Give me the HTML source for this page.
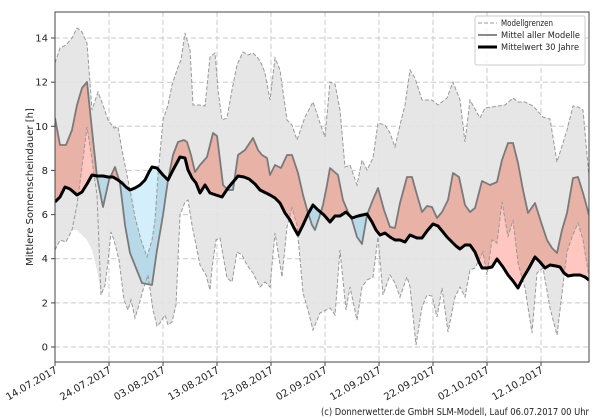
<!DOCTYPE html>
<html><head><meta charset="utf-8"><style>
html,body{margin:0;padding:0;background:#fff;}
svg{display:block;font-family:"DejaVu Sans","Liberation Sans",sans-serif;}
</style></head><body>
<svg width="600" height="420" viewBox="0 0 600 420" xmlns="http://www.w3.org/2000/svg">
<defs>
<clipPath id="plot"><rect x="55" y="12" width="534" height="350"/></clipPath>
<clipPath id="aboveB"><polygon points="55,0 55,202 60,197 65,187 70,189 77,195 82,192 87,184 92,175 97,176 103,176 108,177 113,177 118,180 122,183 126,187 130,190 135,188 140,185 145,180 149,172 152,167 157,168 163,175 168,180 173,170 180,157 185,158 188,170 192,178 196,183 200,193 205,185 210,193 216,195 222,197 228,188 233,182 238,176 244,177 249,179 255,184 260,190 266,193 270,195 275,198 280,203 285,213 290,220 294,228 298,235 303,225 308,214 313,205 318,210 324,215 330,222 335,216 340,216 346,212 352,218 358,216 367,214 372,222 376,230 380,235 385,233 390,237 395,240 400,240 405,242 410,235 417,238 422,238 427,231 433,224 438,226 443,232 447,237 452,242 456,246 460,249 465,245 470,245 475,252 479,262 482,268 487,268 492,267 497,259 503,267 508,275 513,281 518,288 523,278 529,268 535,257 540,262 545,268 550,265 556,266 560,267 564,273 568,276 574,275 580,275 585,277 589,280 589,0"/></clipPath>
<clipPath id="belowB"><polygon points="55,420 55,202 60,197 65,187 70,189 77,195 82,192 87,184 92,175 97,176 103,176 108,177 113,177 118,180 122,183 126,187 130,190 135,188 140,185 145,180 149,172 152,167 157,168 163,175 168,180 173,170 180,157 185,158 188,170 192,178 196,183 200,193 205,185 210,193 216,195 222,197 228,188 233,182 238,176 244,177 249,179 255,184 260,190 266,193 270,195 275,198 280,203 285,213 290,220 294,228 298,235 303,225 308,214 313,205 318,210 324,215 330,222 335,216 340,216 346,212 352,218 358,216 367,214 372,222 376,230 380,235 385,233 390,237 395,240 400,240 405,242 410,235 417,238 422,238 427,231 433,224 438,226 443,232 447,237 452,242 456,246 460,249 465,245 470,245 475,252 479,262 482,268 487,268 492,267 497,259 503,267 508,275 513,281 518,288 523,278 529,268 535,257 540,262 545,268 550,265 556,266 560,267 564,273 568,276 574,275 580,275 585,277 589,280 589,420"/></clipPath>
</defs>

<!-- grid -->
<g stroke="#c8c8c8" stroke-width="1" stroke-dasharray="5,3" fill="none">
<line x1="55" y1="347" x2="589" y2="347"/><line x1="55" y1="302.9" x2="589" y2="302.9"/><line x1="55" y1="258.7" x2="589" y2="258.7"/><line x1="55" y1="214.6" x2="589" y2="214.6"/><line x1="55" y1="170.4" x2="589" y2="170.4"/><line x1="55" y1="126.3" x2="589" y2="126.3"/><line x1="55" y1="82.2" x2="589" y2="82.2"/><line x1="55" y1="38" x2="589" y2="38"/>
<line x1="109" y1="12" x2="109" y2="362"/><line x1="163" y1="12" x2="163" y2="362"/><line x1="217" y1="12" x2="217" y2="362"/><line x1="271" y1="12" x2="271" y2="362"/><line x1="325" y1="12" x2="325" y2="362"/><line x1="379" y1="12" x2="379" y2="362"/><line x1="433" y1="12" x2="433" y2="362"/><line x1="487" y1="12" x2="487" y2="362"/><line x1="541" y1="12" x2="541" y2="362"/>
</g>

<g clip-path="url(#plot)">
<polygon fill="#e3e3e3" fill-opacity="0.9" points="55,63 60,48 66,45 72,38 77,28 82,32 87,43 92,110 98,92 103,105 108,120 114,128 118,127 122,150 127,175 131,195 135,217 141,240 147,257 152,240 155,220 158,175 163,120 168,105 172,85 178,67 181,60 185,33 190,50 193,105 199,105 205,106 210,57 215,53 218,90 222,120 227,118 232,90 237,65 243,52 248,55 253,53 258,58 262,65 265,73 270,100 275,58 280,70 287,120 292,125 297,140 305,117 313,102 320,123 325,137 330,82 335,84 340,110 345,167 350,165 357,185 362,160 367,170 373,158 378,123 385,125 390,133 395,147 400,125 405,105 410,70 415,78 422,100 432,100 438,105 447,98 453,82 460,100 465,142 470,100 480,118 485,108 498,106 505,105 513,98 518,102 525,102 533,106 543,117 550,119 557,162 567,130 573,106 578,107 583,110 589,177 589,277 583,240 578,223 572,237 567,252 557,335 550,308 543,268 537,273 532,333 525,288 518,263 513,220 508,237 502,202 497,243 492,240 487,275 483,252 475,268 470,270 465,297 460,287 455,297 448,332 442,288 437,317 432,296 427,295 422,307 416,345 410,287 407,277 400,297 395,283 390,275 383,295 378,237 373,277 367,280 362,287 357,320 350,287 346,310 340,250 335,315 330,308 320,313 313,330 308,310 303,293 297,225 292,208 287,227 282,277 275,233 270,287 265,282 260,287 253,273 247,265 242,255 237,252 232,282 227,278 220,238 216,240 212,268 210,290 206,275 200,265 196,245 192,225 188,200 185,202 180,215 176,305 172,322 168,325 165,315 160,323 157,326 153,310 148,275 143,290 139,305 135,318 131,300 128,310 124,300 119,260 114,240 111,232 108,262 105,285 101,295 97,270 92,250 87,240 82,235 77,230 72,230 66,242 60,240 55,250"/>

<polygon clip-path="url(#aboveB)" fill="#e8b2a6" points="55,118 60,145 66,145 72,130 77,105 82,88 87,82 92,130 97,177 103,207 109,180 115,167 120,183 125,225 130,253 136,268 142,283 152,285 157,250 163,215 168,180 173,155 178,142 184,140 187,142 191,155 195,172 200,165 207,157 213,133 217,136 220,160 223,185 228,190 233,190 238,155 245,150 253,138 258,150 262,155 267,158 270,175 275,165 281,168 287,155 292,155 298,173 303,195 308,213 312,225 315,230 319,218 323,205 327,185 330,168 338,175 343,200 348,212 352,220 357,237 362,244 367,215 372,202 378,188 384,210 390,227 395,228 400,203 407,177 412,177 417,195 422,212 427,206 432,207 437,218 442,212 448,200 453,173 459,177 465,205 470,212 475,208 482,181 490,185 497,182 502,160 508,143 513,143 518,163 523,190 528,213 535,203 541,222 547,240 552,248 557,253 562,230 567,213 573,178 578,177 583,193 589,215 589,420 55,420"/>
<polygon clip-path="url(#belowB)" fill="#b8dae8" points="55,118 60,145 66,145 72,130 77,105 82,88 87,82 92,130 97,177 103,207 109,180 115,167 120,183 125,225 130,253 136,268 142,283 152,285 157,250 163,215 168,180 173,155 178,142 184,140 187,142 191,155 195,172 200,165 207,157 213,133 217,136 220,160 223,185 228,190 233,190 238,155 245,150 253,138 258,150 262,155 267,158 270,175 275,165 281,168 287,155 292,155 298,173 303,195 308,213 312,225 315,230 319,218 323,205 327,185 330,168 338,175 343,200 348,212 352,220 357,237 362,244 367,215 372,202 378,188 384,210 390,227 395,228 400,203 407,177 412,177 417,195 422,212 427,206 432,207 437,218 442,212 448,200 453,173 459,177 465,205 470,212 475,208 482,181 490,185 497,182 502,160 508,143 513,143 518,163 523,190 528,213 535,203 541,222 547,240 552,248 557,253 562,230 567,213 573,178 578,177 583,193 589,215 589,0 55,0"/>

<polygon clip-path="url(#aboveB)" fill="#ffc7bf" points="55,250 60,240 66,242 72,230 77,205 81,175 87,127 92,160 97,195 101,295 105,285 108,262 111,232 114,240 119,260 124,300 128,310 131,300 135,318 139,305 143,290 148,275 153,310 157,326 160,323 165,315 168,325 172,322 176,305 180,215 185,202 188,200 192,225 196,245 200,265 206,275 210,290 212,268 216,240 220,238 227,278 232,282 237,252 242,255 247,265 253,273 260,287 265,282 270,287 275,233 282,277 287,227 292,208 297,225 303,293 308,310 313,330 320,313 330,308 335,315 340,250 346,310 350,287 357,320 362,287 367,280 373,277 378,237 383,295 390,275 395,283 400,297 407,277 410,287 416,345 422,307 427,295 432,296 437,317 442,288 448,332 455,297 460,287 465,297 470,270 475,268 483,252 487,275 492,240 497,243 502,202 508,237 513,220 518,263 525,288 532,333 537,273 543,268 550,308 557,335 567,252 572,237 578,223 583,240 589,277 589,420 55,420"/>
<polygon clip-path="url(#belowB)" fill="#d2effb" points="114,128 118,127 122,150 127,175 131,195 135,217 141,240 147,257 152,240 155,220 158,175 163,120 163,0 114,0"/>

<g fill="none" stroke="#999" stroke-width="1" stroke-dasharray="4,2">
<polyline points="55,63 60,48 66,45 72,38 77,28 82,32 87,43 92,110 98,92 103,105 108,120 114,128 118,127 122,150 127,175 131,195 135,217 141,240 147,257 152,240 155,220 158,175 163,120 168,105 172,85 178,67 181,60 185,33 190,50 193,105 199,105 205,106 210,57 215,53 218,90 222,120 227,118 232,90 237,65 243,52 248,55 253,53 258,58 262,65 265,73 270,100 275,58 280,70 287,120 292,125 297,140 305,117 313,102 320,123 325,137 330,82 335,84 340,110 345,167 350,165 357,185 362,160 367,170 373,158 378,123 385,125 390,133 395,147 400,125 405,105 410,70 415,78 422,100 432,100 438,105 447,98 453,82 460,100 465,142 470,100 480,118 485,108 498,106 505,105 513,98 518,102 525,102 533,106 543,117 550,119 557,162 567,130 573,106 578,107 583,110 589,177"/>
<polyline points="55,250 60,240 66,242 72,230 77,205 81,175 87,127 92,160 97,195 101,295 105,285 108,262 111,232 114,240 119,260 124,300 128,310 131,300 135,318 139,305 143,290 148,275 153,310 157,326 160,323 165,315 168,325 172,322 176,305 180,215 185,202 188,200 192,225 196,245 200,265 206,275 210,290 212,268 216,240 220,238 227,278 232,282 237,252 242,255 247,265 253,273 260,287 265,282 270,287 275,233 282,277 287,227 292,208 297,225 303,293 308,310 313,330 320,313 330,308 335,315 340,250 346,310 350,287 357,320 362,287 367,280 373,277 378,237 383,295 390,275 395,283 400,297 407,277 410,287 416,345 422,307 427,295 432,296 437,317 442,288 448,332 455,297 460,287 465,297 470,270 475,268 483,252 487,275 492,240 497,243 502,202 508,237 513,220 518,263 525,288 532,333 537,273 543,268 550,308 557,335 567,252 572,237 578,223 583,240 589,277"/>
</g>
<polyline fill="none" stroke="#7a7a7a" stroke-width="1.8" stroke-linejoin="round" points="55,118 60,145 66,145 72,130 77,105 82,88 87,82 92,130 97,177 103,207 109,180 115,167 120,183 125,225 130,253 136,268 142,283 152,285 157,250 163,215 168,180 173,155 178,142 184,140 187,142 191,155 195,172 200,165 207,157 213,133 217,136 220,160 223,185 228,190 233,190 238,155 245,150 253,138 258,150 262,155 267,158 270,175 275,165 281,168 287,155 292,155 298,173 303,195 308,213 312,225 315,230 319,218 323,205 327,185 330,168 338,175 343,200 348,212 352,220 357,237 362,244 367,215 372,202 378,188 384,210 390,227 395,228 400,203 407,177 412,177 417,195 422,212 427,206 432,207 437,218 442,212 448,200 453,173 459,177 465,205 470,212 475,208 482,181 490,185 497,182 502,160 508,143 513,143 518,163 523,190 528,213 535,203 541,222 547,240 552,248 557,253 562,230 567,213 573,178 578,177 583,193 589,215"/>
<polyline fill="none" stroke="#000" stroke-width="3" stroke-linejoin="round" points="55,202 60,197 65,187 70,189 77,195 82,192 87,184 92,175 97,176 103,176 108,177 113,177 118,180 122,183 126,187 130,190 135,188 140,185 145,180 149,172 152,167 157,168 163,175 168,180 173,170 180,157 185,158 188,170 192,178 196,183 200,193 205,185 210,193 216,195 222,197 228,188 233,182 238,176 244,177 249,179 255,184 260,190 266,193 270,195 275,198 280,203 285,213 290,220 294,228 298,235 303,225 308,214 313,205 318,210 324,215 330,222 335,216 340,216 346,212 352,218 358,216 367,214 372,222 376,230 380,235 385,233 390,237 395,240 400,240 405,242 410,235 417,238 422,238 427,231 433,224 438,226 443,232 447,237 452,242 456,246 460,249 465,245 470,245 475,252 479,262 482,268 487,268 492,267 497,259 503,267 508,275 513,281 518,288 523,278 529,268 535,257 540,262 545,268 550,265 556,266 560,267 564,273 568,276 574,275 580,275 585,277 589,280"/>
</g>

<rect x="55" y="12" width="534" height="350" fill="none" stroke="#444" stroke-width="1"/>
<g stroke="#444" stroke-width="1">
<line x1="51" y1="347" x2="55" y2="347"/><line x1="51" y1="302.9" x2="55" y2="302.9"/><line x1="51" y1="258.7" x2="55" y2="258.7"/><line x1="51" y1="214.6" x2="55" y2="214.6"/><line x1="51" y1="170.4" x2="55" y2="170.4"/><line x1="51" y1="126.3" x2="55" y2="126.3"/><line x1="51" y1="82.2" x2="55" y2="82.2"/><line x1="51" y1="38" x2="55" y2="38"/>
<line x1="55" y1="362" x2="55" y2="366"/><line x1="109" y1="362" x2="109" y2="366"/><line x1="163" y1="362" x2="163" y2="366"/><line x1="217" y1="362" x2="217" y2="366"/><line x1="271" y1="362" x2="271" y2="366"/><line x1="325" y1="362" x2="325" y2="366"/><line x1="379" y1="362" x2="379" y2="366"/><line x1="433" y1="362" x2="433" y2="366"/><line x1="487" y1="362" x2="487" y2="366"/><line x1="541" y1="362" x2="541" y2="366"/>
</g>
<g font-size="10" fill="#222" text-anchor="end">
<text x="48" y="350.5">0</text><text x="48" y="306.4">2</text><text x="48" y="262.2">4</text><text x="48" y="218.1">6</text><text x="48" y="173.9">8</text><text x="48" y="129.8">10</text><text x="48" y="85.7">12</text><text x="48" y="41.5">14</text>
<text transform="translate(58,372) rotate(-30)">14.07.2017</text>
<text transform="translate(112,372) rotate(-30)">24.07.2017</text>
<text transform="translate(166,372) rotate(-30)">03.08.2017</text>
<text transform="translate(220,372) rotate(-30)">13.08.2017</text>
<text transform="translate(274,372) rotate(-30)">23.08.2017</text>
<text transform="translate(328,372) rotate(-30)">02.09.2017</text>
<text transform="translate(382,372) rotate(-30)">12.09.2017</text>
<text transform="translate(436,372) rotate(-30)">22.09.2017</text>
<text transform="translate(490,372) rotate(-30)">02.10.2017</text>
<text transform="translate(544,372) rotate(-30)">12.10.2017</text>
</g>
<text transform="translate(33,187) rotate(-90)" font-size="10" fill="#222" text-anchor="middle">Mittlere Sonnenscheindauer [h]</text>
<text x="589" y="415" font-size="10" fill="#222" text-anchor="end" textLength="268" lengthAdjust="spacingAndGlyphs">(c) Donnerwetter.de GmbH SLM-Modell, Lauf 06.07.2017 00 Uhr</text>

<rect x="475" y="16" width="110" height="49" rx="2" fill="#fff" fill-opacity="0.85" stroke="#ccc"/>
<line x1="478" y1="23" x2="497" y2="23" stroke="#999" stroke-dasharray="4,2"/>
<line x1="478" y1="35" x2="497" y2="35" stroke="#7a7a7a" stroke-width="1.8"/>
<line x1="478" y1="47" x2="497" y2="47" stroke="#000" stroke-width="3"/>
<g font-size="8.5" fill="#222">
<text x="501" y="26" textLength="52" lengthAdjust="spacingAndGlyphs">Modellgrenzen</text>
<text x="501" y="38" textLength="79" lengthAdjust="spacingAndGlyphs">Mittel aller Modelle</text>
<text x="501" y="50" textLength="78" lengthAdjust="spacingAndGlyphs">Mittelwert 30 Jahre</text>
</g>
</svg>
</body></html>
